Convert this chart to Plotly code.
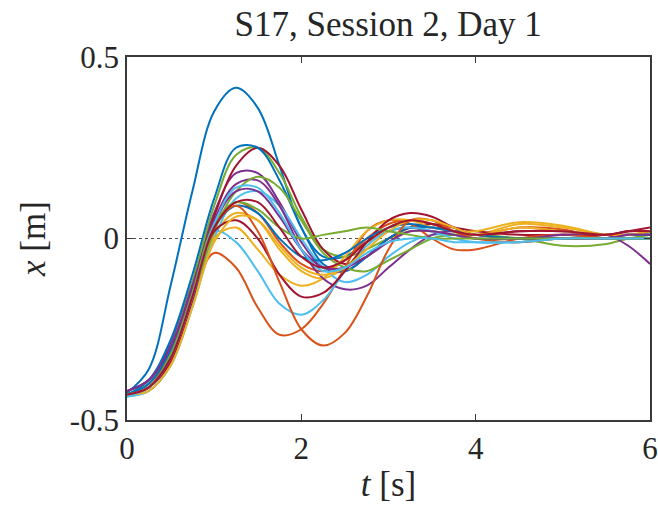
import plotly.graph_objects as go

# Sample times (s) shared by all trials
t = [0, 0.25, 0.5, 0.75, 1.0, 1.25, 1.5, 1.75, 2.0, 2.25, 2.5, 2.75,
     3.0, 3.25, 3.5, 3.75, 4.0, 4.5, 5.0, 5.5, 5.75, 6.0]

# Position x (m) of each trial at the sample times
trial_01 = [-0.425, -0.36, -0.13, 0.13, 0.35, 0.415, 0.36, 0.20, 0.03, -0.05, -0.05, -0.01, 0.02, 0.03, 0.02, 0.01, 0.0, 0.0, 0.0, 0.01, 0.01, 0.01]
trial_02 = [-0.43, -0.40, -0.32, -0.15, 0.03, 0.10, 0.07, -0.01, -0.07, -0.09, -0.06, 0.0, 0.04, 0.05, 0.04, 0.02, 0.01, 0.03, 0.025, 0.0, 0.01, 0.01]
trial_03 = [-0.43, -0.41, -0.33, -0.17, 0.01, 0.07, 0.05, -0.03, -0.09, -0.11, -0.08, -0.02, 0.03, 0.05, 0.04, 0.02, 0.01, 0.04, 0.03, 0.01, 0.01, 0.02]
trial_04 = [-0.42, -0.39, -0.29, -0.12, 0.07, 0.18, 0.18, 0.10, -0.01, -0.08, -0.09, -0.05, 0.0, 0.03, 0.03, 0.02, 0.01, 0.0, 0.01, 0.01, 0.01, 0.01]
trial_05 = [-0.43, -0.40, -0.30, -0.12, 0.09, 0.23, 0.25, 0.18, 0.06, -0.03, -0.05, -0.03, 0.0, 0.02, 0.02, 0.01, 0.01, 0.0, -0.02, -0.015, 0.0, 0.01]
trial_06 = [-0.435, -0.42, -0.35, -0.19, 0.0, 0.11, 0.13, 0.09, 0.0, -0.08, -0.12, -0.10, -0.05, -0.01, 0.01, 0.01, 0.0, 0.0, 0.0, 0.0, 0.0, 0.0]
trial_07 = [-0.43, -0.41, -0.32, -0.14, 0.06, 0.20, 0.25, 0.20, 0.08, -0.03, -0.07, -0.05, 0.0, 0.03, 0.04, 0.03, 0.02, 0.01, 0.01, 0.01, 0.02, 0.02]
trial_08 = [-0.43, -0.39, -0.28, -0.10, 0.11, 0.25, 0.25, 0.16, 0.03, -0.07, -0.09, -0.05, 0.0, 0.03, 0.03, 0.02, 0.01, 0.0, 0.0, 0.0, 0.01, 0.01]
trial_09 = [-0.43, -0.41, -0.33, -0.16, -0.04, -0.08, -0.19, -0.265, -0.25, -0.18, -0.08, 0.02, 0.05, 0.04, 0.0, -0.03, -0.03, 0.0, 0.01, 0.0, 0.0, 0.0]
trial_10 = [-0.43, -0.41, -0.34, -0.18, 0.0, 0.03, -0.03, -0.10, -0.13, -0.11, -0.05, 0.02, 0.05, 0.05, 0.03, 0.02, 0.02, 0.045, 0.035, 0.01, 0.01, 0.02]
trial_11 = [-0.42, -0.39, -0.30, -0.13, 0.05, 0.15, 0.16, 0.09, -0.03, -0.11, -0.14, -0.13, -0.08, -0.03, 0.01, 0.02, 0.01, 0.0, 0.01, 0.01, -0.02, -0.07]
trial_12 = [-0.43, -0.41, -0.33, -0.17, 0.02, 0.13, 0.17, 0.14, 0.05, -0.04, -0.08, -0.09, -0.06, -0.03, 0.0, 0.01, 0.01, 0.0, 0.0, 0.0, 0.0, 0.0]
trial_13 = [-0.435, -0.42, -0.35, -0.18, 0.02, -0.01, -0.09, -0.18, -0.21, -0.17, -0.09, -0.02, 0.02, 0.03, 0.02, 0.0, -0.01, -0.01, 0.0, 0.0, 0.0, 0.0]
trial_14 = [-0.43, -0.41, -0.34, -0.17, 0.02, 0.05, 0.0, -0.10, -0.16, -0.15, -0.09, -0.01, 0.05, 0.07, 0.06, 0.03, 0.01, 0.02, 0.02, 0.01, 0.02, 0.03]
trial_15 = [-0.43, -0.40, -0.31, -0.15, 0.03, 0.09, 0.07, 0.0, -0.05, -0.06, -0.04, 0.0, 0.03, 0.04, 0.03, 0.02, 0.01, 0.0, 0.0, 0.0, 0.0, 0.0]
trial_16 = [-0.43, -0.41, -0.33, -0.16, 0.03, 0.09, 0.02, -0.12, -0.25, -0.295, -0.26, -0.16, -0.03, 0.05, 0.05, 0.02, 0.0, -0.01, 0.0, 0.0, 0.0, 0.0]
trial_17 = [-0.43, -0.42, -0.35, -0.19, -0.01, 0.06, 0.05, -0.02, -0.08, -0.10, -0.08, -0.03, 0.02, 0.05, 0.05, 0.03, 0.01, 0.03, 0.02, 0.01, 0.01, 0.02]
trial_18 = [-0.42, -0.39, -0.30, -0.14, 0.04, 0.13, 0.13, 0.06, -0.03, -0.08, -0.08, -0.05, -0.01, 0.02, 0.02, 0.01, 0.0, 0.0, 0.0, 0.0, 0.01, 0.01]
trial_19 = [-0.43, -0.41, -0.32, -0.15, 0.04, 0.10, 0.08, 0.03, 0.0, 0.01, 0.02, 0.03, 0.02, 0.01, 0.0, 0.0, 0.0, 0.0, 0.0, 0.0, 0.0, 0.0]
trial_20 = [-0.435, -0.41, -0.33, -0.16, 0.04, 0.14, 0.14, 0.07, -0.03, -0.09, -0.08, -0.04, -0.01, 0.0, 0.0, -0.01, -0.01, -0.01, 0.0, 0.0, 0.0, 0.0]
trial_21 = [-0.43, -0.41, -0.33, -0.16, 0.03, 0.10, 0.10, 0.03, -0.05, -0.08, -0.06, -0.01, 0.03, 0.05, 0.04, 0.02, 0.01, 0.02, 0.02, 0.01, 0.02, 0.02]

trials = [trial_01, trial_02, trial_03, trial_04, trial_05, trial_06, trial_07,
          trial_08, trial_09, trial_10, trial_11, trial_12, trial_13, trial_14,
          trial_15, trial_16, trial_17, trial_18, trial_19, trial_20, trial_21]

# Default line colour order, cycled over the trials
colors = ["#0072BD", "#D95319", "#EDB120", "#7E2F8E", "#77AC30", "#4DBEEE", "#A2142F"]

x_ticks = [0, 2, 4, 6]
y_ticks = [-0.5, 0, 0.5]
y_tick_text = ["-0.5", "0", "0.5"]

title_text = "S17, Session 2, Day 1"
x_label = "<i>t</i> [s]"
y_label = "<i>x</i> [m]"

FONT = "Liberation Serif"
TEXT_COLOR = "#262626"

fig = go.Figure()

# Dotted reference line at x = 0
fig.add_trace(go.Scatter(x=[x_ticks[0], x_ticks[-1]], y=[0, 0], mode="lines",
                         line=dict(color="#555555", width=1.2, dash="dot"),
                         hoverinfo="skip", showlegend=False))

for i, y in enumerate(trials):
    fig.add_trace(go.Scatter(x=t, y=y, mode="lines",
                             line=dict(color=colors[i % len(colors)], width=2,
                                       shape="spline", smoothing=1.0),
                             showlegend=False))

axis_common = dict(showgrid=False, zeroline=False, showline=True, mirror="ticks",
                   linecolor="#3a3a3a", linewidth=1.8, ticks="inside", ticklen=6,
                   tickwidth=1.4, tickcolor="#3a3a3a", automargin=False,
                   tickfont=dict(family=FONT, size=31, color=TEXT_COLOR))

fig.update_xaxes(range=[0, 6], tickvals=x_ticks, **axis_common,
                 title=dict(text=x_label, font=dict(family=FONT, size=35, color=TEXT_COLOR),
                            standoff=6))
fig.update_yaxes(range=[-0.5, 0.5], tickvals=y_ticks, ticktext=y_tick_text, **axis_common,
                 title=dict(text=y_label, font=dict(family=FONT, size=35, color=TEXT_COLOR),
                            standoff=14))

fig.update_layout(
    width=658, height=513,
    margin=dict(l=127, r=8, t=57, b=93),
    font=dict(family=FONT, color=TEXT_COLOR),
    paper_bgcolor="white", plot_bgcolor="white",
    title=dict(text=title_text, x=0.59, xanchor="center", y=1 - 24 / 513,
               yanchor="middle", yref="container",
               font=dict(family=FONT, size=35, color=TEXT_COLOR)),
)

fig.write_html("out.html")
